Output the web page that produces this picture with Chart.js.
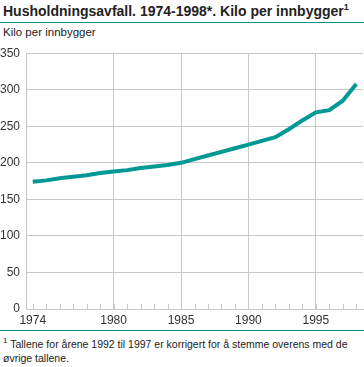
<!DOCTYPE html>
<html>
<head>
<meta charset="utf-8">
<script src="https://cdn.jsdelivr.net/npm/chart.js@4"></script>
<style>
  body { margin: 0; background: #fff; font-family: "Liberation Sans", Arial, sans-serif; color: #222; }
  #wrap { position: relative; width: 364px; height: 367px; overflow: hidden; }
  .title { position: absolute; left: 3px; top: 2px; font-size: 14px; font-weight: bold; white-space: nowrap; }
  .title sup { font-size: 9px; }
  .rule { position: absolute; left: 0; width: 364px; height: 1px; background: #00918d; }
  .ylabel { position: absolute; left: 3px; top: 26px; font-size: 11.5px; }
  .note { position: absolute; left: 3px; top: 334px; font-size: 10.5px; line-height: 14px; white-space: nowrap; }
  .note sup { font-size: 8px; }
  #box { position: absolute; left: 0; top: 40px; width: 364px; height: 290px; }
</style>
</head>
<body>
<div id="wrap">
  <div class="title">Husholdningsavfall. 1974-1998*. Kilo per innbygger<sup>1</sup></div>
  <div class="rule" style="top:22px"></div>
  <div class="ylabel">Kilo per innbygger</div>
  <div id="box"><canvas id="chart"></canvas></div>
  <div class="rule" style="top:330px"></div>
  <div class="note"><sup>1</sup> Tallene for årene 1992 til 1997 er korrigert for å stemme overens med de<br>øvrige tallene.</div>
</div>
<script>
// Data lest av fra figuren
const years = ['1974', '1975', '1976', '1977', '1978', '1979', '1980', '1981', '1982', '1983', '1984', '1985',
               '1986', '1987', '1988', '1989', '1990', '1991', '1992', '1993', '1994', '1995', '1996', '1997', '1998'];
const kiloPerInnbygger = [174, 176, 179, 181, 183, 186, 188, 190, 193, 195, 197, 200,
                          205, 210, 215, 220, 225, 230, 235, 246, 258, 269, 272, 285, 308];
const shownYears = ['1974', '1980', '1985', '1990', '1995'];
const gridYears = ['1980', '1985', '1990', '1995'];

const GRID = '#c8c8c8';
const TEAL = '#009893';

// Små hakk innenfor plottet for hvert år
const yearTicks = {
    id: 'yearTicks',
    beforeDatasetsDraw(chart) {
        const x = chart.scales.x;
        const bottom = chart.chartArea.bottom;
        const ctx = chart.ctx;
        ctx.save();
        ctx.strokeStyle = GRID;
        ctx.lineWidth = 1;
        years.forEach((y, i) => {
            const px = Math.round(x.getPixelForTick(i)) + 0.5;
            ctx.beginPath();
            ctx.moveTo(px, bottom);
            ctx.lineTo(px, bottom - 5);
            ctx.stroke();
        });
        ctx.restore();
    }
};

new Chart(document.getElementById('chart'), {
    type: 'line',
    data: {
        labels: years,
        datasets: [{
            data: kiloPerInnbygger,
            borderColor: TEAL,
            borderWidth: 4,
            pointRadius: 0,
            tension: 0,
            fill: false
        }]
    },
    options: {
        responsive: true,
        maintainAspectRatio: false,
        animation: false,
        layout: { padding: { top: 9, right: 1, left: 0, bottom: 0 } },
        plugins: { legend: { display: false }, tooltip: { enabled: false } },
        scales: {
            x: {
                offset: true,
                grid: {
                    offset: false,
                    drawTicks: false,
                    color: ctx => gridYears.includes(years[ctx.index]) ? GRID : 'rgba(0,0,0,0)'
                },
                border: { color: GRID },
                ticks: {
                    autoSkip: false,
                    maxRotation: 0,
                    padding: 4,
                    color: '#333',
                    font: { family: 'Liberation Sans', size: 12 },
                    callback: (v, i) => shownYears.includes(years[i]) ? years[i] : ''
                },
                afterFit: s => { s.height = 21; }
            },
            y: {
                min: 0,
                max: 350,
                grid: { color: GRID, drawTicks: false },
                border: { color: GRID },
                ticks: {
                    stepSize: 50,
                    padding: 6,
                    color: '#333',
                    font: { family: 'Liberation Sans', size: 12 }
                },
                afterFit: s => { s.width = 26; }
            }
        }
    },
    plugins: [yearTicks]
});
</script>
</body>
</html>
